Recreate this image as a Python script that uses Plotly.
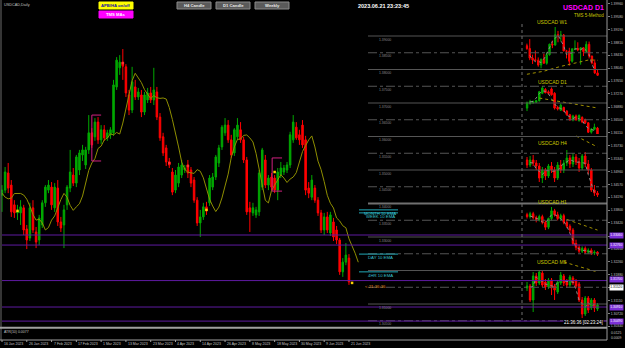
import plotly.graph_objects as go
import pandas as pd

W, H = 625, 348
FONT = "Liberation Sans"
GREEN = "#00a800"
RED = "#ff0000"
YEL = "#8f8f00"
TXT = "#c0c0c0"
PURPLE_LINE = "#5e1aa0"
PURPLE_LBL = "#7b2fd6"
CYAN = "#22a8b8"
MAGENTA = "#d0207f"
LEVEL = "#555555"

# ---------------- main USDCAD daily bars (bar 0 = 16 Jan 2023) ----------------
d_open = [1.3425, 1.3440, 1.3491, 1.3455, 1.3396, 1.3372, 1.3372, 1.3387, 1.3324, 1.3297,
          1.3387, 1.3315, 1.3291, 1.3336, 1.3402, 1.3440, 1.3449, 1.3387, 1.3446, 1.3345,
          1.3336, 1.3396, 1.3446, 1.3485, 1.3461, 1.3500, 1.3545, 1.3515, 1.3560, 1.3611,
          1.3599, 1.3643, 1.3590, 1.3620, 1.3596, 1.3605, 1.3611, 1.3748, 1.3805, 1.3822,
          1.3808, 1.3724, 1.3679, 1.3748, 1.3718, 1.3724, 1.3673, 1.3709, 1.3730, 1.3709,
          1.3733, 1.3658, 1.3599, 1.3566, 1.3524, 1.3494, 1.3440, 1.3461, 1.3485, 1.3500,
          1.3515, 1.3500, 1.3470, 1.3410, 1.3342, 1.3360, 1.3390, 1.3402, 1.3449, 1.3479,
          1.3521, 1.3569, 1.3611, 1.3634, 1.3590, 1.3551, 1.3599, 1.3620, 1.3590, 1.3530,
          1.3387, 1.3372, 1.3366, 1.3375, 1.3449, 1.3530, 1.3455, 1.3479, 1.3476, 1.3440,
          1.3485, 1.3494, 1.3500, 1.3515, 1.3590, 1.3628, 1.3605, 1.3634, 1.3590, 1.3446,
          1.3419, 1.3446, 1.3410, 1.3372, 1.3321, 1.3360, 1.3312, 1.3345, 1.3321, 1.3291,
          1.3196, 1.3225, 1.3237]
d_high = [1.3455, 1.3509, 1.3521, 1.3470, 1.3410, 1.3396, 1.3410, 1.3396, 1.3336, 1.3402,
          1.3410, 1.3330, 1.3366, 1.3410, 1.3455, 1.3470, 1.3464, 1.3461, 1.3470, 1.3360,
          1.3396, 1.3455, 1.3560, 1.3506, 1.3545, 1.3560, 1.3575, 1.3569, 1.3664, 1.3625,
          1.3655, 1.3658, 1.3634, 1.3634, 1.3620, 1.3628, 1.3769, 1.3837, 1.3843, 1.3861,
          1.3816, 1.3739, 1.3808, 1.3769, 1.3745, 1.3739, 1.3733, 1.3745, 1.3748, 1.3805,
          1.3748, 1.3670, 1.3611, 1.3575, 1.3536, 1.3506, 1.3500, 1.3521, 1.3530, 1.3515,
          1.3530, 1.3509, 1.3479, 1.3419, 1.3381, 1.3402, 1.3405, 1.3485, 1.3491, 1.3545,
          1.3575, 1.3634, 1.3655, 1.3649, 1.3605, 1.3625, 1.3655, 1.3643, 1.3599, 1.3539,
          1.3405, 1.3402, 1.3390, 1.3500, 1.3566, 1.3545, 1.3485, 1.3491, 1.3485, 1.3506,
          1.3524, 1.3515, 1.3524, 1.3614, 1.3664, 1.3643, 1.3620, 1.3649, 1.3602, 1.3464,
          1.3485, 1.3455, 1.3419, 1.3381, 1.3372, 1.3375, 1.3375, 1.3357, 1.3333, 1.3297,
          1.3237, 1.3282, 1.3249]
d_low = [1.3375, 1.3431, 1.3431, 1.3360, 1.3357, 1.3351, 1.3336, 1.3306, 1.3264, 1.3288,
         1.3312, 1.3267, 1.3276, 1.3327, 1.3390, 1.3431, 1.3381, 1.3375, 1.3333, 1.3315,
         1.3267, 1.3381, 1.3434, 1.3452, 1.3449, 1.3485, 1.3527, 1.3503, 1.3548, 1.3566,
         1.3587, 1.3578, 1.3578, 1.3587, 1.3587, 1.3593, 1.3602, 1.3739, 1.3784, 1.3769,
         1.3718, 1.3664, 1.3670, 1.3709, 1.3709, 1.3658, 1.3664, 1.3700, 1.3700, 1.3694,
         1.3649, 1.3587, 1.3542, 1.3512, 1.3506, 1.3425, 1.3431, 1.3449, 1.3476, 1.3491,
         1.3476, 1.3449, 1.3402, 1.3333, 1.3300, 1.3351, 1.3366, 1.3393, 1.3440, 1.3470,
         1.3509, 1.3560, 1.3602, 1.3581, 1.3536, 1.3542, 1.3590, 1.3581, 1.3521, 1.3366,
         1.3315, 1.3363, 1.3357, 1.3363, 1.3440, 1.3446, 1.3440, 1.3440, 1.3431, 1.3410,
         1.3476, 1.3485, 1.3491, 1.3506, 1.3581, 1.3590, 1.3575, 1.3566, 1.3425, 1.3416,
         1.3410, 1.3402, 1.3363, 1.3312, 1.3306, 1.3312, 1.3303, 1.3288, 1.3279, 1.3187,
         1.3181, 1.3216, 1.3157]
d_close = [1.3440, 1.3494, 1.3446, 1.3375, 1.3372, 1.3378, 1.3390, 1.3321, 1.3291, 1.3387,
           1.3321, 1.3285, 1.3357, 1.3402, 1.3449, 1.3455, 1.3396, 1.3449, 1.3345, 1.3327,
           1.3381, 1.3449, 1.3494, 1.3461, 1.3539, 1.3551, 1.3560, 1.3560, 1.3611, 1.3575,
           1.3643, 1.3590, 1.3620, 1.3596, 1.3611, 1.3620, 1.3754, 1.3828, 1.3822, 1.3810,
           1.3730, 1.3679, 1.3763, 1.3718, 1.3733, 1.3673, 1.3724, 1.3730, 1.3709, 1.3739,
           1.3658, 1.3596, 1.3551, 1.3524, 1.3515, 1.3434, 1.3485, 1.3509, 1.3515, 1.3506,
           1.3491, 1.3461, 1.3410, 1.3342, 1.3360, 1.3390, 1.3378, 1.3476, 1.3479, 1.3539,
           1.3566, 1.3628, 1.3634, 1.3590, 1.3545, 1.3620, 1.3634, 1.3590, 1.3530, 1.3375,
           1.3375, 1.3387, 1.3381, 1.3491, 1.3560, 1.3455, 1.3476, 1.3449, 1.3440, 1.3494,
           1.3506, 1.3506, 1.3515, 1.3605, 1.3643, 1.3596, 1.3590, 1.3575, 1.3440, 1.3431,
           1.3470, 1.3410, 1.3372, 1.3321, 1.3360, 1.3321, 1.3366, 1.3300, 1.3291, 1.3196,
           1.3225, 1.3246, 1.3166]
prior_close = [1.3440, 1.3420, 1.3430, 1.3425, 1.3440, 1.3380, 1.3395]
MA_PERIOD, MA_SHIFT = 5, 3

date_idx = [0, 8, 16, 24, 32, 40, 48, 56, 64, 72, 80, 88, 96, 104, 112]
date_txt = ["16 Jan 2023", "26 Jan 2023", "7 Feb 2023", "17 Feb 2023", "1 Mar 2023",
            "13 Mar 2023", "23 Mar 2023", "4 Apr 2023", "14 Apr 2023", "26 Apr 2023",
            "8 May 2023", "18 May 2023", "30 May 2023", "9 Jun 2023", "21 Jun 2023"]

axis_ticks = [1.39960, 1.39580, 1.39190, 1.38810, 1.38430, 1.38040, 1.37650, 1.37270,
              1.36880, 1.36500, 1.36110, 1.35730, 1.35340, 1.34960, 1.34570, 1.34190,
              1.33800, 1.33420, 1.33030, 1.32650, 1.32260, 1.31880, 1.31490, 1.31110,
              1.30720, 1.30340]
PRICE_LO, PRICE_HI = 1.30314, 1.40015

level_solid = [1.39, 1.38, 1.37, 1.36, 1.35, 1.34, 1.33, 1.32, 1.31]
level_dash = [1.385, 1.375, 1.365, 1.355, 1.345, 1.335, 1.325, 1.315, 1.305]
level_major = 1.34
purple_levels = [1.3306, 1.3276, 1.3170, 1.3091, 1.3049]
bid_price = 1.3152
ema_names = ["MONTH 10 EMA", "WEEK 10 EMA", "DAY 10 EMA", "4HR 10 EMA"]
ema_values = [1.3381, 1.3372, 1.3249, 1.3196]

sig_yellow_i = [5, 66, 88, 113]
sig_yellow_p = [1.3378, 1.3381, 1.3494, 1.3163]
sig_red_i = [39, 54, 60]
sig_red_p = [1.3819, 1.3521, 1.3512]
box_start = [29, 87.2]
box_end = [32, 90.4]
box_hi = [1.3664, 1.3536]
box_lo = [1.3527, 1.3437]

# ---------------- mini multi-timeframe panels ----------------
w1_open = [1.3590, 1.3550, 1.3410, 1.3385, 1.3380, 1.3310, 1.3395, 1.3335, 1.3460, 1.3612, 1.3600,
           1.3750, 1.3740, 1.3745, 1.3515, 1.3510, 1.3365, 1.3545, 1.3550, 1.3530, 1.3560, 1.3505,
           1.3610, 1.3440, 1.3340, 1.3195]
w1_high = [1.3620, 1.3685, 1.3460, 1.3520, 1.3420, 1.3400, 1.3475, 1.3495, 1.3620, 1.3665, 1.3862,
           1.3805, 1.3805, 1.3760, 1.3530, 1.3560, 1.3550, 1.3668, 1.3640, 1.3565, 1.3570, 1.3655,
           1.3650, 1.3445, 1.3390, 1.3245]
w1_low = [1.3530, 1.3380, 1.3325, 1.3360, 1.3285, 1.3262, 1.3330, 1.3315, 1.3445, 1.3555, 1.3590,
          1.3640, 1.3650, 1.3510, 1.3405, 1.3300, 1.3345, 1.3525, 1.3510, 1.3315, 1.3440, 1.3495,
          1.3405, 1.3320, 1.3180, 1.3150]
w1_close = [1.3550, 1.3410, 1.3385, 1.3380, 1.3310, 1.3395, 1.3335, 1.3460, 1.3612, 1.3600, 1.3750,
            1.3740, 1.3745, 1.3515, 1.3510, 1.3365, 1.3545, 1.3550, 1.3530, 1.3560, 1.3505, 1.3610,
            1.3440, 1.3340, 1.3195, 1.3160]
w1_ma_i = [0, 6, 12, 18, 22, 25]
w1_ma_v = [1.3175, 1.3220, 1.3290, 1.3350, 1.3385, 1.3378]

d1_ma_i = [4, 23]
d1_ma_v = [1.3542, 1.3441]

h4_open = [1.3250, 1.3235, 1.3250, 1.3241, 1.3232, 1.3196, 1.3220, 1.3202, 1.3232, 1.3220, 1.3196, 1.3235,
           1.3220, 1.3241, 1.3256, 1.3238, 1.3259, 1.3244, 1.3226, 1.3262, 1.3238, 1.3220, 1.3160, 1.3151]
h4_high = [1.3259, 1.3262, 1.3265, 1.3250, 1.3241, 1.3229, 1.3226, 1.3238, 1.3244, 1.3229, 1.3244, 1.3250,
           1.3250, 1.3280, 1.3265, 1.3271, 1.3268, 1.3256, 1.3268, 1.3274, 1.3250, 1.3226, 1.3175, 1.3157]
h4_low = [1.3226, 1.3229, 1.3232, 1.3220, 1.3184, 1.3181, 1.3190, 1.3196, 1.3211, 1.3184, 1.3190, 1.3211,
          1.3211, 1.3232, 1.3226, 1.3229, 1.3235, 1.3214, 1.3220, 1.3229, 1.3208, 1.3154, 1.3142, 1.3139]
h4_close = [1.3235, 1.3250, 1.3241, 1.3232, 1.3196, 1.3220, 1.3202, 1.3232, 1.3220, 1.3196, 1.3235, 1.3220,
            1.3241, 1.3256, 1.3238, 1.3259, 1.3244, 1.3226, 1.3262, 1.3238, 1.3220, 1.3160, 1.3151, 1.3145]
h4_ma_i = [16, 23]
h4_ma_v = [1.3322, 1.3289]

h1_open = [1.3236, 1.3232, 1.3238, 1.3230, 1.3226, 1.3232, 1.3220, 1.3210, 1.3228, 1.3244, 1.3236, 1.3228,
           1.3234, 1.3220, 1.3212, 1.3204, 1.3176, 1.3168, 1.3160, 1.3166, 1.3158, 1.3162, 1.3156, 1.3158]
h1_high = [1.3240, 1.3242, 1.3242, 1.3234, 1.3236, 1.3236, 1.3224, 1.3230, 1.3252, 1.3248, 1.3242, 1.3238,
           1.3238, 1.3226, 1.3216, 1.3208, 1.3184, 1.3174, 1.3170, 1.3170, 1.3166, 1.3166, 1.3162, 1.3160]
h1_low = [1.3228, 1.3228, 1.3226, 1.3220, 1.3222, 1.3216, 1.3204, 1.3206, 1.3224, 1.3232, 1.3224, 1.3224,
          1.3216, 1.3208, 1.3198, 1.3172, 1.3162, 1.3156, 1.3156, 1.3154, 1.3154, 1.3152, 1.3152, 1.3150]
h1_close = [1.3232, 1.3238, 1.3230, 1.3226, 1.3232, 1.3220, 1.3210, 1.3228, 1.3244, 1.3236, 1.3228, 1.3234,
            1.3220, 1.3212, 1.3204, 1.3176, 1.3168, 1.3160, 1.3166, 1.3158, 1.3162, 1.3156, 1.3158, 1.3154]
h1_ma_i = [13, 23]
h1_ma_v = [1.3226, 1.3204]

m5_open = [1.31910, 1.31920, 1.31850, 1.31970, 1.31935, 1.31985, 1.31940, 1.31915, 1.31950, 1.31920,
           1.31890, 1.31935, 1.31970, 1.31945, 1.31925, 1.31960, 1.31945, 1.31930, 1.31850, 1.31780,
           1.31860, 1.31810, 1.31850, 1.31805]
m5_high = [1.31940, 1.31930, 1.31990, 1.31985, 1.32000, 1.31995, 1.31955, 1.31960, 1.31960, 1.31930,
           1.31950, 1.31990, 1.31980, 1.31955, 1.31975, 1.31970, 1.31955, 1.31940, 1.31865, 1.31870,
           1.31870, 1.31860, 1.31860, 1.31835]
m5_low = [1.31895, 1.31840, 1.31790, 1.31920, 1.31925, 1.31915, 1.31900, 1.31905, 1.31875, 1.31850,
          1.31880, 1.31925, 1.31920, 1.31910, 1.31915, 1.31925, 1.31910, 1.31840, 1.31760, 1.31770,
          1.31785, 1.31800, 1.31790, 1.31795]
m5_close = [1.31920, 1.31850, 1.31970, 1.31935, 1.31990, 1.31925, 1.31915, 1.31950, 1.31910, 1.31900,
            1.31940, 1.31975, 1.31935, 1.31925, 1.31965, 1.31935, 1.31920, 1.31850, 1.31780, 1.31860,
            1.31800, 1.31850, 1.31810, 1.31825]
m5_ma_i = [12, 23]
m5_ma_v = [1.32040, 1.31990]

# ------------------------------------------------------------------
def px(x):
    return x / W


def py(y):
    return 1 - y / H


traces, shapes, annots = [], [], []


def note(text, x, y, size, color, xanchor="left", yanchor="middle", xref="paper",
         yref="paper", bg=None, bold=False, xshift=0, yshift=0, pad=0):
    xx = px(x) if xref == "paper" else x
    yy = py(y) if yref == "paper" else y
    a = dict(text=f"<b>{text}</b>" if bold else text, x=xx, y=yy, xref=xref, yref=yref,
             xanchor=xanchor, yanchor=yanchor, showarrow=False, xshift=xshift, yshift=yshift,
             font=dict(family=FONT, size=size, color=color), borderpad=pad)
    if bg:
        a["bgcolor"] = bg
    annots.append(a)


def pline(x0, y0, x1, y1, color, width=1, dash="solid"):
    shapes.append(dict(type="line", xref="paper", yref="paper", x0=px(x0), y0=py(y0),
                       x1=px(x1), y1=py(y1), line=dict(color=color, width=width, dash=dash)))


def yline(x0, x1, price, color, width=1, dash="solid"):
    shapes.append(dict(type="line", xref="paper", yref="y", x0=px(x0), x1=px(x1),
                       y0=price, y1=price, line=dict(color=color, width=width, dash=dash)))


def candles(o, h, l, c, xa, ya):
    return go.Candlestick(x=list(range(len(c))), open=o, high=h, low=l, close=c,
                          increasing=dict(line=dict(color=GREEN, width=1), fillcolor=GREEN),
                          decreasing=dict(line=dict(color=RED, width=1), fillcolor=RED),
                          whiskerwidth=0, hoverinfo="skip", xaxis=xa, yaxis=ya)


# main candles
traces.append(candles(d_open, d_high, d_low, d_close, "x", "y"))

# shifted moving average
ext = pd.Series(prior_close + d_close)
sma = ext.rolling(MA_PERIOD).mean()
ma_x, ma_y = [], []
for k, v in enumerate(sma):
    j = k - len(prior_close) + MA_SHIFT
    if pd.notna(v) and j >= 0:
        ma_x.append(j)
        ma_y.append(v)
traces.append(go.Scatter(x=ma_x, y=ma_y, mode="lines", line=dict(color=YEL, width=1),
                         hoverinfo="skip", xaxis="x", yaxis="y"))

# bracket boxes
bx, by = [], []
for s, e, hi, lo in zip(box_start, box_end, box_hi, box_lo):
    bx += [e, s, s, e, None]
    by += [hi, hi, lo, lo, None]
traces.append(go.Scatter(x=bx, y=by, mode="lines", line=dict(color=MAGENTA, width=1),
                         hoverinfo="skip", xaxis="x", yaxis="y"))
traces.append(go.Scatter(x=sig_red_i, y=sig_red_p, mode="markers",
                         marker=dict(symbol="square", size=2.5, color="#ff3030"),
                         hoverinfo="skip", xaxis="x", yaxis="y"))
traces.append(go.Scatter(x=sig_yellow_i, y=sig_yellow_p, mode="markers",
                         marker=dict(symbol="square", size=2.5, color="#ffd000"),
                         hoverinfo="skip", xaxis="x", yaxis="y"))

layout = dict(
    width=W, height=H, margin=dict(l=0, r=0, t=0, b=0),
    paper_bgcolor="black", plot_bgcolor="black", showlegend=False,
    xaxis=dict(domain=[px(1), px(607)], range=[-1 / 3.098, 605 / 3.098], visible=False,
               rangeslider=dict(visible=False), fixedrange=True),
    yaxis=dict(domain=[py(327), py(2)], range=[PRICE_LO, PRICE_HI], side="right",
               tickvals=axis_ticks, ticktext=[f"{v:.5f}" for v in axis_ticks],
               showgrid=False, zeroline=False, showline=False, ticks="outside", ticklen=2,
               tickcolor="#808080", tickfont=dict(family=FONT, size=3.4, color=TXT),
               automargin=False, fixedrange=True),
)

# mini panels
minis = [
    ("USDCAD W1", w1_open, w1_high, w1_low, w1_close, 27, 76, 4, 3, 22, w1_ma_i, w1_ma_v),
    ("USDCAD D1", d_open[-24:], d_high[-24:], d_low[-24:], d_close[-24:], 86, 136, 4, 2, 81.5, d1_ma_i, d1_ma_v),
    ("USDCAD H4", h4_open, h4_high, h4_low, h4_close, 150, 197, 16, 2, 142.5, h4_ma_i, h4_ma_v),
    ("USDCAD H1", h1_open, h1_high, h1_low, h1_close, 207, 256, 4, 2, 202, h1_ma_i, h1_ma_v),
    ("USDCAD M5", m5_open, m5_high, m5_low, m5_close, 270, 318, 12, 2, 262, m5_ma_i, m5_ma_v),
]
for k, (name, o, h, l, c, top, bot, et, eb, ty, mi, mv) in enumerate(minis, start=2):
    xa, ya = f"x{k}", f"y{k}"
    lo, hi = min(l), max(h)
    sc = (hi - lo) / (bot - top)
    layout[f"xaxis{k}"] = dict(domain=[px(525.5), px(599)], range=[-0.5, len(c) - 0.5],
                               visible=False, rangeslider=dict(visible=False), anchor=ya,
                               fixedrange=True)
    layout[f"yaxis{k}"] = dict(domain=[py(bot + eb), py(top - et)],
                               range=[lo - eb * sc, hi + et * sc], visible=False, anchor=xa,
                               fixedrange=True)
    fast = pd.Series(c).rolling(3).mean().shift(-1)
    traces.append(go.Scatter(x=list(range(len(c))), y=fast, mode="lines",
                             line=dict(color="#8a8a8a", width=1, dash="dot"),
                             hoverinfo="skip", xaxis=xa, yaxis=ya))
    traces.append(go.Scatter(x=mi, y=mv, mode="lines",
                             line=dict(color="#a09000", width=1, dash="dot"),
                             hoverinfo="skip", xaxis=xa, yaxis=ya))
    traces.append(candles(o, h, l, c, xa, ya))
    note(name, 552, ty, 5, "#c8c800", xanchor="center")

# level lines with labels (labels hidden where an EMA tag sits on top, as in the chart)
for v in level_solid:
    yline(368, 607, v, "#707070" if v == level_major else LEVEL, width=2 if v == level_major else 1)
for v in level_dash:
    yline(368, 607, v, LEVEL, dash="dashdot")
for v in sorted(level_solid + level_dash, reverse=True):
    if any(abs(v - e) < 0.0012 for e in ema_values) or abs(v - bid_price) < 0.0008:
        continue
    note(f"{v:.5f}", 378, v, 3.4, "#8a8a8a", yref="y", yanchor="top", yshift=-0.5)

# purple support/resistance lines
for v in purple_levels:
    yline(2, 607, v, PURPLE_LINE)
    note(f"{v:.5f}", 608.5, v, 3.3, "white", yref="y", bg=PURPLE_LBL, pad=0.3, yshift=0.8 if v == purple_levels[2] else 0)
note(f"{bid_price:.5f}", 608.5, bid_price, 3.3, "black", yref="y", bg="white", pad=0.3, yshift=-0.8)

# EMA markers
for name, v in zip(ema_names, ema_values):
    yline(359, 398, v, CYAN)
    note(name, 380, v, 4.3, "#38c0d0", xanchor="center", yref="y", yanchor="top", yshift=-0.3)
note("&lt; 21:36:36", 364, bid_price, 4.3, "#e08a1e", yref="y")

# frame
pline(1, 0, 1, 340, "#6a6a6a")
pline(607, 0, 607, 340, "#9a9a9a")
pline(0, 327.8, 607, 327.8, "#a0a0a0", width=2)
pline(0, 340, 607, 340, "#a0a0a0")
pline(522, 24, 522, 320, "#707070", dash="dot")


# buttons
def button(x0, x1, y0, y1, fill, label, color, border):
    shapes.append(dict(type="rect", xref="paper", yref="paper", x0=px(x0), x1=px(x1),
                       y0=py(y1), y1=py(y0), fillcolor=fill, line=dict(color=border, width=1)))
    note(label, (x0 + x1) / 2, (y0 + y1) / 2, 4.2, color, xanchor="center", bold=True)


button(99, 133, 2, 9, "#ffff00", "APB/HA on/off", "#1010a0", "#ffff00")
button(99, 133, 11, 18, "#ff00ff", "TMS MAs", "#ffffff", "#ff00ff")
button(177, 211, 2, 9, "#5a5a5a", "H4 Candle", "#e8e8e8", "#8a8a8a")
button(216, 250, 2, 9, "#5a5a5a", "D1 Candle", "#e8e8e8", "#8a8a8a")
button(255, 289, 2, 9, "#5a5a5a", "Weekly", "#e8e8e8", "#8a8a8a")

# header texts
note("USDCAD,Daily", 3, 4.5, 3.8, TXT)
note("2023.06.21 23:23:45", 384, 6, 5.5, "white", xanchor="center", bold=True)
note("USDCAD D1", 605, 7.5, 7, "#ff00ff", xanchor="right", bold=True)
note("TMS 5-Method", 605, 16, 4.5, "#c8c800", xanchor="right")
note("21:36:36 [02:23:24]", 604, 322, 4.5, "white", xanchor="right", bg="black")

# ATR pane
note("ATR(10) 0.0077", 3, 332, 3.5, TXT)
note("0.0125", 609.5, 333, 3.4, TXT)
note("0.0009", 609.5, 338, 3.4, TXT)

# date axis
for i, t in zip(date_idx, date_txt):
    note(t, i, 344, 3.5, TXT, xref="x", xshift=1)
    shapes.append(dict(type="line", xref="x", yref="paper", x0=i, x1=i, y0=py(340),
                       y1=py(342), line=dict(color="#a0a0a0", width=1)))

layout["shapes"] = shapes
layout["annotations"] = annots

fig = go.Figure(data=traces, layout=layout)
fig.write_html("out.html")
